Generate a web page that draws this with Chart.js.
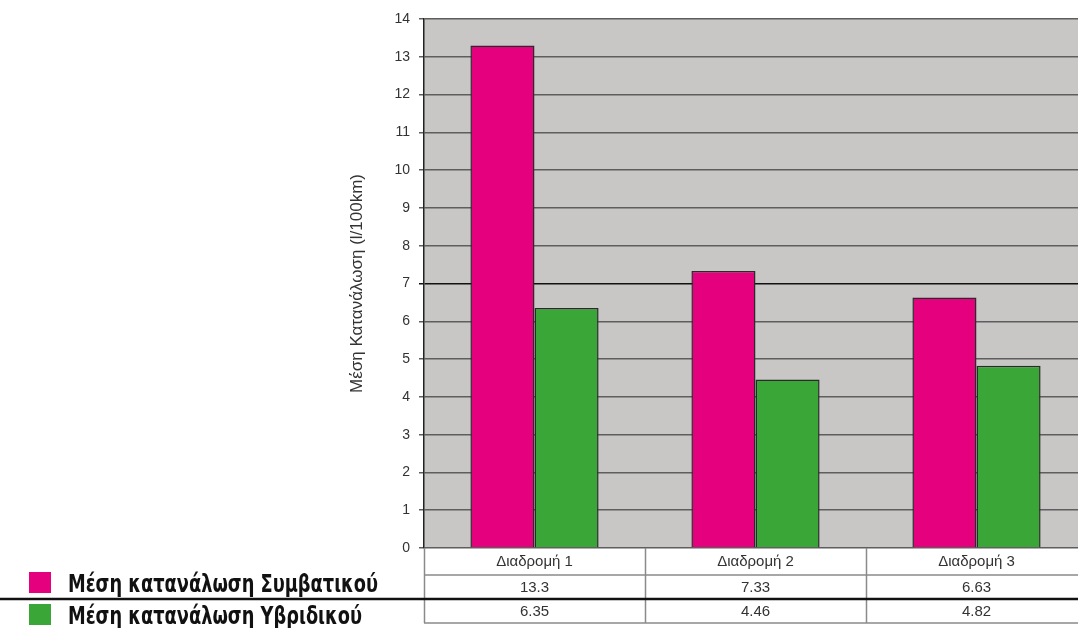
<!DOCTYPE html>
<html>
<head>
<meta charset="utf-8">
<script src="https://cdn.jsdelivr.net/npm/chart.js@4"></script>
<style>
  html, body { margin: 0; padding: 0; background: #fff; overflow: hidden; }
  #wrap { position: relative; width: 1100px; height: 628px; }
</style>
</head>
<body>
<div id="wrap"><canvas id="fuelChart"></canvas></div>
<script>
const routes = ["Διαδρομή 1", "Διαδρομή 2", "Διαδρομή 3"];
const conventional = [13.3, 7.33, 6.63];
const hybrid = [6.35, 4.46, 4.82];
const seriesNames = ["Μέση κατανάλωση Συμβατικού", "Μέση κατανάλωση Υβριδικού"];
const seriesColors = ["#e5007d", "#3ba638"];
const yTitle = "Μέση Κατανάλωση (l/100km)";
const yMin = 0, yMax = 14, yStep = 1;

const tableFont = '15px "Liberation Sans", Arial, sans-serif';
const legendFont = 'bold 25px "Liberation Sans Narrow", "DejaVu Sans Condensed", "Liberation Sans", sans-serif';

// grey plot background
const plotBackground = {
    id: "plotBackground",
    beforeDraw(chart) {
        const { ctx, chartArea: a } = chart;
        ctx.save();
        ctx.fillStyle = "#c9c6c6";
        ctx.fillRect(a.left, a.top, a.right - a.left, a.bottom - a.top);
        ctx.restore();
    }
};

// data table under the x axis plus the legend on its left
const dataTable = {
    id: "dataTable",
    afterDraw(chart) {
        const { ctx, chartArea: a } = chart;
        const x = chart.scales.x;
        const rows = [a.bottom, a.bottom + 27, a.bottom + 51, a.bottom + 75];
        const colW = (a.right - a.left) / routes.length;
        ctx.save();

        ctx.fillStyle = "#fff";
        ctx.fillRect(a.left, rows[0] + 1, a.right - a.left, rows[3] - rows[0] - 1);

        ctx.strokeStyle = "#8a8a8a";
        ctx.lineWidth = 1.5;
        ctx.beginPath();
        for (let i = 0; i <= routes.length; i++) {
            const cx = Math.round(a.left + i * colW) + 0.5;
            ctx.moveTo(cx, rows[0]);
            ctx.lineTo(cx, rows[3]);
        }
        ctx.moveTo(a.left, rows[1]);
        ctx.lineTo(a.right, rows[1]);
        ctx.moveTo(a.left, rows[3]);
        ctx.lineTo(a.right, rows[3]);
        ctx.stroke();

        // separator between the two series rows runs across the legend too
        ctx.strokeStyle = "#111";
        ctx.lineWidth = 2.5;
        ctx.beginPath();
        ctx.moveTo(0, rows[2]);
        ctx.lineTo(a.right, rows[2]);
        ctx.stroke();

        ctx.fillStyle = "#333";
        ctx.font = tableFont;
        ctx.textAlign = "center";
        ctx.textBaseline = "middle";
        routes.forEach((r, i) => {
            const cx = x.getPixelForValue(i);
            ctx.fillText(r, cx, (rows[0] + rows[1]) / 2);
            ctx.fillText(String(conventional[i]), cx, (rows[1] + rows[2]) / 2 + 1);
            ctx.fillText(String(hybrid[i]), cx, (rows[2] + rows[3]) / 2 + 1);
        });

        // legend
        ctx.font = legendFont;
        ctx.textAlign = "left";
        ctx.textBaseline = "alphabetic";
        const sx = 310 / ctx.measureText(seriesNames[0]).width;
        seriesNames.forEach((name, i) => {
            const top = i === 0 ? rows[1] - 3 : rows[2] + 5;
            ctx.fillStyle = seriesColors[i];
            ctx.fillRect(29, top, 22, 21);
            ctx.save();
            ctx.translate(68, top + 20);
            ctx.scale(sx, 1);
            ctx.fillStyle = "#111";
            ctx.fillText(name, 0, 0);
            ctx.restore();
        });
        ctx.restore();
    }
};

new Chart(document.getElementById("fuelChart"), {
    type: "bar",
    data: {
        labels: routes,
        datasets: [
            { label: seriesNames[0], data: conventional, backgroundColor: seriesColors[0], borderColor: "#2a2a2a", borderWidth: 1.5 },
            { label: seriesNames[1], data: hybrid, backgroundColor: seriesColors[1], borderColor: "#2a2a2a", borderWidth: 1.5 }
        ]
    },
    options: {
        responsive: true,
        maintainAspectRatio: false,
        animation: false,
        layout: { padding: { left: 330, right: 13, top: 19, bottom: 80 } },
        datasets: { bar: { categoryPercentage: 0.58, barPercentage: 1 } },
        plugins: { legend: { display: false }, tooltip: { enabled: false } },
        scales: {
            x: { display: false },
            y: {
                min: yMin,
                max: yMax,
                afterFit(s) { s.width = 94; },
                ticks: {
                    stepSize: yStep,
                    padding: 9,
                    color: "#333",
                    font: { family: '"Liberation Sans", Arial, sans-serif', size: 14 }
                },
                grid: {
                    color: c => (c.tick && c.tick.value === 7 ? "#111" : "#5e5e5e"),
                    lineWidth: 1.5,
                    tickLength: 5
                },
                border: { color: "#222", width: 1.5 },
                title: {
                    display: true,
                    text: yTitle,
                    color: "#333",
                    padding: { top: 17, bottom: 0 },
                    font: { family: '"Liberation Sans", Arial, sans-serif', size: 17 }
                }
            }
        }
    },
    plugins: [plotBackground, dataTable]
});
</script>
</body>
</html>
